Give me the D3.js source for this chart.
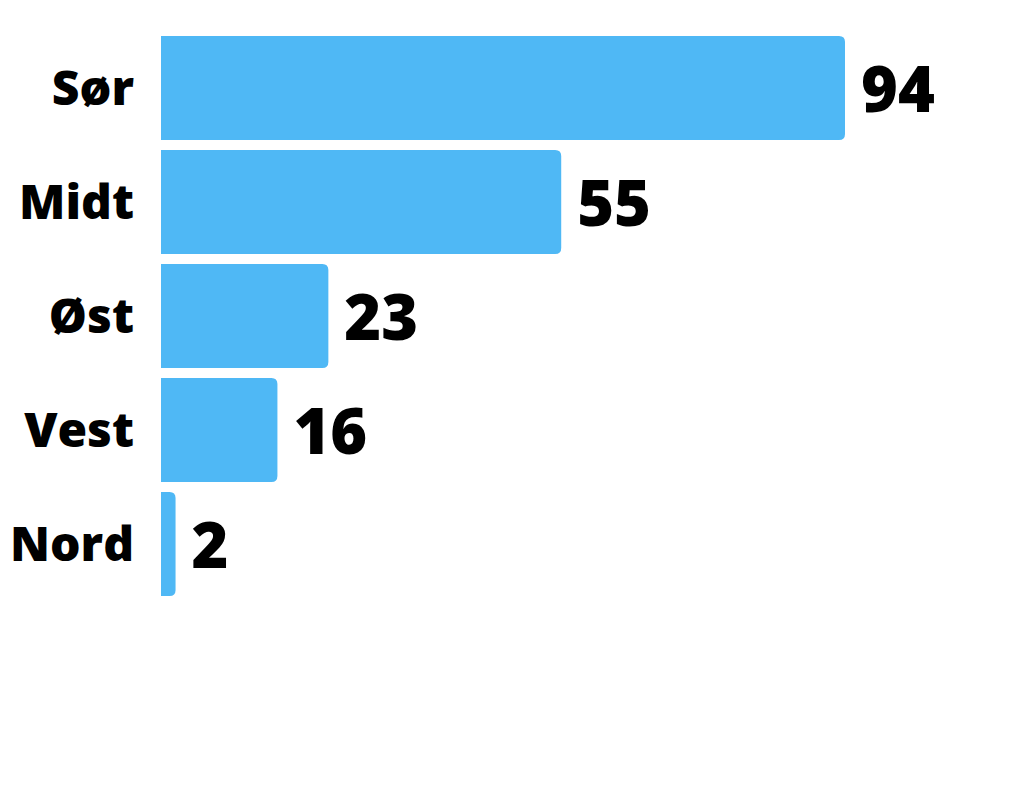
<!DOCTYPE html>
<html><head><meta charset="utf-8">
<script src="https://cdn.jsdelivr.net/npm/d3@7"></script>
<style>
html,body{margin:0;padding:0;background:#fff;}
text{font-family:"Open Sans",sans-serif;font-weight:800;fill:#000;}
</style></head>
<body>
<svg id="chart" width="1024" height="800"></svg>
<script>
const categories = ["Sør", "Midt", "Øst", "Vest", "Nord"];
const values = [94, 55, 23, 16, 2];

const svg = d3.select("#chart");
const x0 = 161;
const x = d3.scaleLinear().domain([0, 94]).range([x0, 845]);
const y = d3.scaleBand().domain(categories).range([31, 601])
  .paddingInner(10/114).paddingOuter(5/114);
const r = 6;

function barPath(x1, yTop, h) {
  const w = x1 - x0;
  const rr = Math.min(r, w / 2);
  return `M${x0},${yTop}H${x1 - rr}Q${x1},${yTop} ${x1},${yTop + rr}V${yTop + h - rr}Q${x1},${yTop + h} ${x1 - rr},${yTop + h}H${x0}Z`;
}

const data = categories.map((c, i) => ({c, v: values[i]}));

svg.selectAll("path.bar").data(data).join("path")
  .attr("class", "bar")
  .attr("fill", "#4fb8f5")
  .attr("d", d => barPath(x(d.v), y(d.c), y.bandwidth()));

svg.selectAll("text.cat").data(data).join("text")
  .attr("class", "cat")
  .attr("x", 134)
  .attr("y", d => y(d.c) + y.bandwidth() / 2)
  .attr("dy", "0.36em")
  .attr("text-anchor", "end")
  .attr("font-size", 48)
  .text(d => d.c);

svg.selectAll("text.val").data(data).join("text")
  .attr("class", "val")
  .attr("x", d => x(d.v) + 16)
  .attr("y", d => y(d.c) + y.bandwidth() / 2)
  .attr("dy", "0.38em")
  .attr("font-size", 63)
  .text(d => d.v);
</script>
</body></html>
